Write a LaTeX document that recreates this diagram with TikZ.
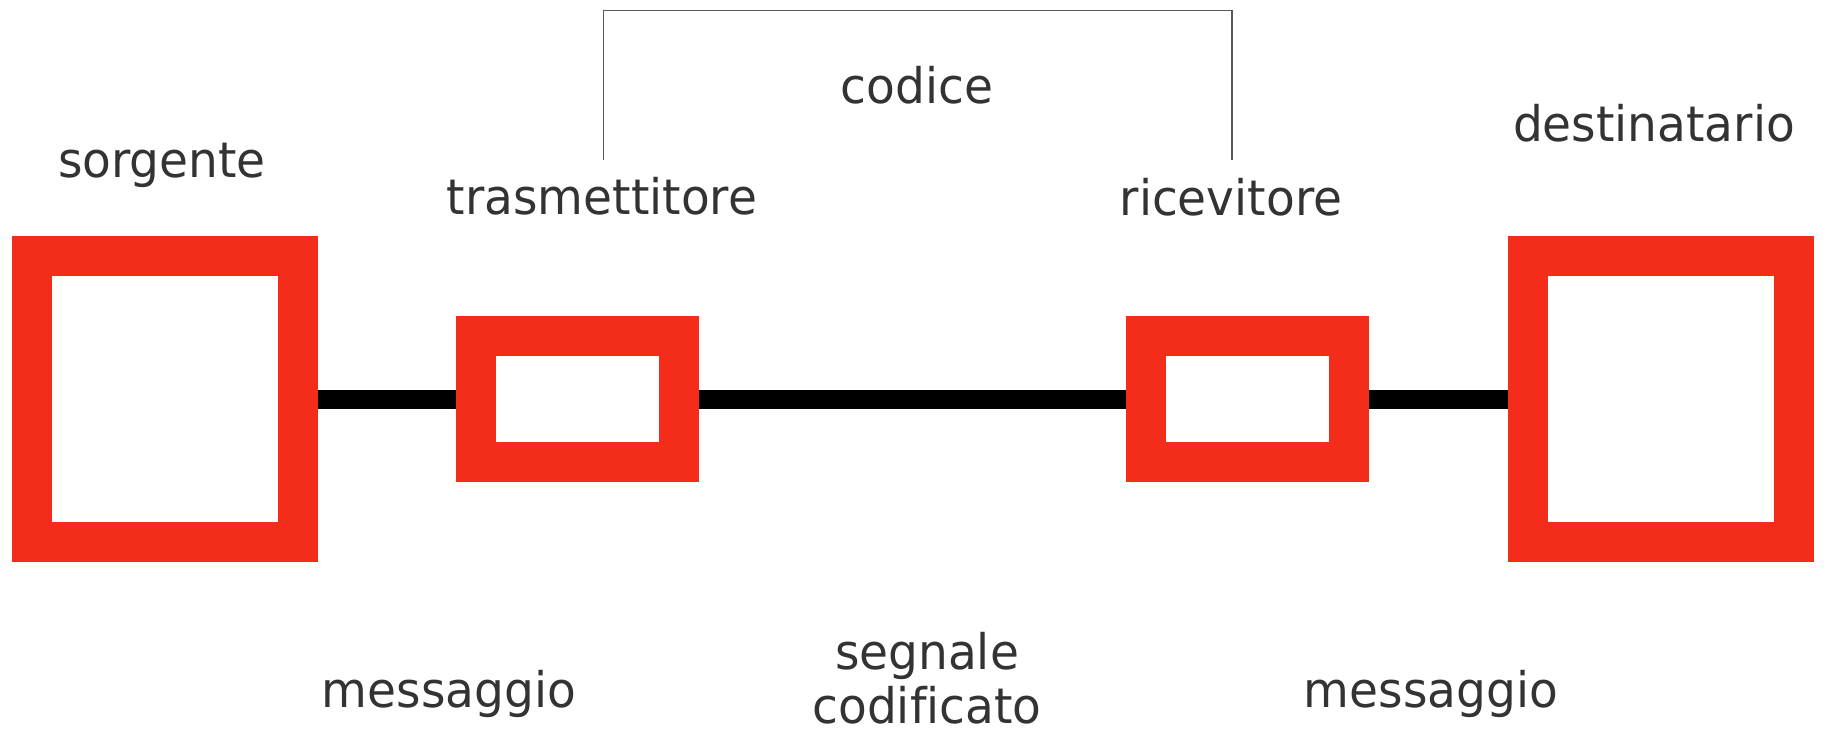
\documentclass[tikz,border=0pt]{standalone}
\usepackage{fontspec}
\newfontfamily\labfont{DejaVu Sans}[FakeStretch=0.96,Ligatures=NoCommon]
\definecolor{boxred}{RGB}{243,45,26}
\definecolor{txtgray}{RGB}{51,51,51}
\begin{document}
\begin{tikzpicture}[x=1pt,y=-1pt,
  bigbox/.style={draw=boxred,fill=white,line width=40pt,outer sep=20pt,inner sep=0pt,minimum width=266pt,minimum height=286pt},
  smallbox/.style={draw=boxred,fill=white,line width=40pt,outer sep=20pt,inner sep=0pt,minimum width=203pt,minimum height=126pt},
  lab/.style={text=txtgray,font=\labfont\fontsize{49}{54}\selectfont,inner sep=0pt,anchor=base,align=center},
  wire/.style={line width=19pt,black},
  bracket/.style={line width=1.3pt,draw=black!65}]
\useasboundingbox (0,0) rectangle (1832,731);
\node[bigbox] (src) at (165,399) {};
\node[smallbox] (tx) at (577.5,399) {};
\node[smallbox] (rx) at (1247.7,399) {};
\node[bigbox] (dst) at (1661,399) {};
\draw[wire] (src.east) -- (tx.west);
\draw[wire] (tx.east) -- (rx.west);
\draw[wire] (rx.east) -- (dst.west);
\coordinate (b1) at (603.5,160);
\coordinate (b2) at (603.5,10.5);
\coordinate (b3) at (1232,10.5);
\coordinate (b4) at (1232,160);
\draw[bracket] (b1) -- (b2) -- (b3) -- (b4);
\node[lab] (lsrc) at (162,177.7) {sorgente};
\node[lab] (ltx) at (602,214) {trasmettitore};
\node[lab] (lcod) at (917,103) {codice};
\node[lab] (lrx) at (1231,215) {ricevitore};
\node[lab] (ldst) at (1654,141) {destinatario};
\node[lab] (lm1) at (449,707) {messaggio};
\node[lab] (lsig) at (927,723) {segnale\\codificato};
\node[lab] (lm2) at (1431,707) {messaggio};
\end{tikzpicture}
\end{document}
